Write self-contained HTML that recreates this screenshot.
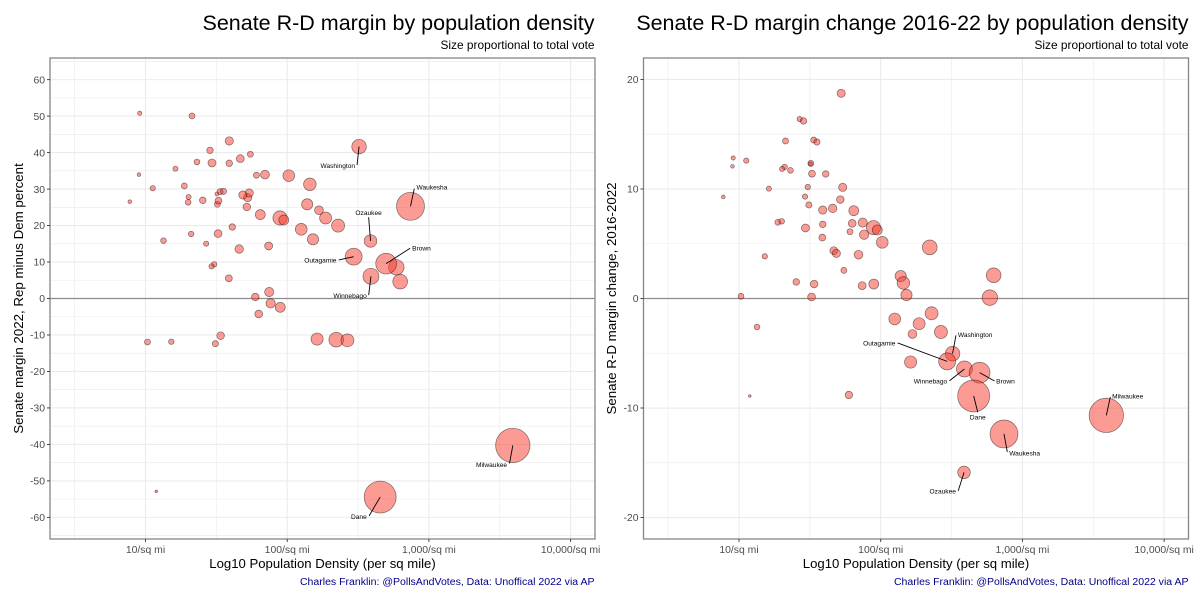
<!DOCTYPE html>
<html lang="en">
<head>
<meta charset="utf-8">
<title>Senate R-D margin by population density</title>
<style>
html,body{margin:0;padding:0;background:#fff;}
svg{display:block;filter:blur(0.35px);}
text{font-family:"Liberation Sans",sans-serif;}
</style>
</head>
<body>
<svg id="chart" xmlns="http://www.w3.org/2000/svg" width="1200" height="600" viewBox="0 0 1200 600">
  <rect width="1200" height="600" fill="#fff"/>
  <text x="594.5" y="30" text-anchor="end" font-size="21.5" fill="#000">Senate R-D margin by population density</text>
  <text x="594.5" y="49" text-anchor="end" font-size="11.9" fill="#000">Size proportional to total vote</text>
  <text x="322.5" y="568" text-anchor="middle" font-size="13.15" fill="#000">Log10 Population Density (per sq mile)</text>
  <text transform="translate(23 298.5) rotate(-90)" text-anchor="middle" font-size="13.3" fill="#000">Senate margin 2022, Rep minus Dem percent</text>
  <text x="594.5" y="585" text-anchor="end" font-size="10.53" fill="#00008b">Charles Franklin: @PollsAndVotes, Data: Unoffical 2022 via AP</text>
  <text x="1188.5" y="30" text-anchor="end" font-size="21.46" fill="#000">Senate R-D margin change 2016-22 by population density</text>
  <text x="1188.5" y="49" text-anchor="end" font-size="11.9" fill="#000">Size proportional to total vote</text>
  <text x="916" y="568" text-anchor="middle" font-size="13.15" fill="#000">Log10 Population Density (per sq mile)</text>
  <text transform="translate(616 298.5) rotate(-90)" text-anchor="middle" font-size="13.3" fill="#000">Senate R-D margin change, 2016-2022</text>
  <text x="1188.5" y="585" text-anchor="end" font-size="10.53" fill="#00008b">Charles Franklin: @PollsAndVotes, Data: Unoffical 2022 via AP</text>
</svg>
<script>
// County data (one entry per Wisconsin county)
var logDensity = [1.721,1.428,1.455,1.328,1.527,1.550,0.959,1.051,0.954,1.507,1.504,1.322,1.304,1.363,1.515,1.612,1.485,1.732,1.211,0.889,1.466,1.715,1.493,1.591,1.661,1.810,1.274,1.301,1.799,1.873,1.949,1.976,1.591,1.469,1.783,1.883,1.588,2.011,2.346,1.669,1.687,1.843,1.182,1.740,1.404,1.530,1.869,1.951,2.141,2.160,2.797,2.182,2.770,1.014,1.512,2.359,2.099,2.271,1.127,2.425,2.224,2.507,2.469,2.211,2.591,2.698,2.656,1.076,1.775,2.870,3.592,2.588];
var margin2022 = [27.65,15.04,40.63,50.05,29.30,29.39,50.78,30.21,33.96,25.82,28.66,17.69,27.83,37.43,26.83,19.61,9.37,28.93,35.60,26.55,8.82,25.09,-12.39,43.19,13.57,22.99,30.85,26.37,-4.25,1.78,22.07,21.53,37.07,37.16,33.78,-1.33,5.53,33.68,-11.29,38.35,28.38,33.96,-11.84,39.53,26.92,-10.19,14.40,-2.42,25.82,31.31,4.62,16.22,8.55,-11.93,17.78,19.97,18.97,22.07,15.86,-11.47,24.18,41.64,11.47,-11.11,6.08,9.55,-54.43,-52.88,0.41,25.27,-40.27,15.77];
var marginChange = [18.74,16.39,16.21,14.38,14.47,14.29,12.83,12.59,12.07,12.34,12.28,12.01,11.83,11.70,11.40,11.37,10.18,10.15,10.03,9.27,9.30,9.03,8.54,8.08,8.23,8.02,6.96,7.05,6.86,6.93,6.47,6.26,6.77,6.44,6.10,5.83,5.56,5.13,4.67,4.37,4.12,4.00,3.85,2.57,1.51,1.32,1.17,1.32,2.05,1.42,2.12,0.32,0.08,0.20,0.14,-1.35,-1.87,-2.30,-2.60,-3.06,-3.24,-5.04,-5.74,-5.80,-6.44,-6.77,-8.90,-8.90,-8.81,-12.37,-10.67,-15.88];
var totalVotes = [25,10,15.7,13.4,13.4,14.3,6.6,10.4,5.1,13.4,5.9,11.2,9.7,12.5,17.7,15.7,11.2,25,9.7,5.1,10.4,21.5,14.3,25.6,26.9,37,12.9,12.1,22.6,31.5,75,37,15.7,23.8,13.4,32.8,17.7,50.9,81,23.2,25,28.8,10.8,13.4,16.2,22,23.8,37,46.6,59,81,46.6,89,12.9,22.6,62.8,51.8,53.5,12,62.8,28.8,79,107,55,95,161,381,2.5,21,291,440,59];

// Axis ticks
var xBreaks = [1,2,3,4];
var xMinorBreaks = [0.5,1.5,2.5,3.5];
var xTickLabels = ['10/sq mi','100/sq mi','1,000/sq mi','10,000/sq mi'];
var leftYBreaks = [60,50,40,30,20,10,0,-10,-20,-30,-40,-50,-60];
var leftYMinorBreaks = [65,55,45,35,25,15,5,-5,-15,-25,-35,-45,-55,-65];
var rightYBreaks = [20,10,0,-10,-20];
var rightYMinorBreaks = [15,5,-5,-15];

// Repel annotations: county index plus pixel nudges from the point
var leftLabels = [
  {name:'Washington',i:61,sx:-2,sy:18.3,lx:-4,ly:19.3,a:'end'},
  {name:'Waukesha',i:69,sx:3.8,sy:-17.7,lx:6,ly:-19,a:'start'},
  {name:'Ozaukee',i:71,sx:-1.9,sy:-23.7,lx:-1.9,ly:-28.3,a:'middle'},
  {name:'Brown',i:65,sx:24,sy:-15.4,lx:26,ly:-15.4,a:'start'},
  {name:'Outagamie',i:62,sx:-14.9,sy:3.3,lx:-17.2,ly:3.3,a:'end'},
  {name:'Winnebago',i:64,sx:-2.3,sy:18.7,lx:-4.2,ly:19.4,a:'end'},
  {name:'Milwaukee',i:70,sx:-3.3,sy:18,lx:-5.7,ly:19.4,a:'end'},
  {name:'Dane',i:66,sx:-11,sy:18.7,lx:-13.4,ly:19.7,a:'end'}
];
var rightLabels = [
  {name:'Washington',i:61,sx:3.4,sy:-18.4,lx:5.3,ly:-19,a:'start'},
  {name:'Outagamie',i:62,sx:-49.5,sy:-18.4,lx:-51.8,ly:-18,a:'end'},
  {name:'Winnebago',i:64,sx:-15,sy:11.7,lx:-17.3,ly:12.3,a:'end'},
  {name:'Brown',i:65,sx:14.9,sy:8.4,lx:16.5,ly:8.7,a:'start'},
  {name:'Dane',i:66,sx:4.1,sy:16.3,lx:4.1,ly:21,a:'middle'},
  {name:'Waukesha',i:69,sx:3.3,sy:18,lx:5.2,ly:19.3,a:'start'},
  {name:'Milwaukee',i:70,sx:4,sy:-18.3,lx:5.8,ly:-19,a:'start'},
  {name:'Ozaukee',i:71,sx:-5.8,sy:18.3,lx:-8.1,ly:18.9,a:'end'}
];

var SVG_NS = 'http://www.w3.org/2000/svg';
var chart = document.getElementById('chart');
var X_DOMAIN_MIN = 0.326, X_DOMAIN_MAX = 4.172;
var PANEL_TOP = 58, PANEL_BOTTOM = 539;
var SIZE_K = 0.82;

function make(tag, attrs, parent) {
  var el = document.createElementNS(SVG_NS, tag);
  for (var k in attrs) el.setAttribute(k, attrs[k]);
  parent.appendChild(el);
  return el;
}

function drawPanel(prefix, left, right, yLimit, yBreaks, yMinor, values, labels) {
  var g = make('g', {}, chart);
  
  

  function xScale(v) { return left + (v - X_DOMAIN_MIN) / (X_DOMAIN_MAX - X_DOMAIN_MIN) * (right - left); }
  function yScale(v) { return PANEL_TOP + (yLimit - v) / (2 * yLimit) * (PANEL_BOTTOM - PANEL_TOP); }
  function sizeScale(v) { return SIZE_K * Math.sqrt(v); }

  yMinor.forEach(function (v) {
    var l = make('line', {x1: left, x2: right, y1: yScale(v), y2: yScale(v), stroke: '#ebebeb', 'stroke-width': 0.6}, g);
    
    
  });
  xMinorBreaks.forEach(function (v) {
    var l = make('line', {x1: xScale(v), x2: xScale(v), y1: PANEL_TOP, y2: PANEL_BOTTOM, stroke: '#ebebeb', 'stroke-width': 0.6}, g);
    
    
  });
  yBreaks.forEach(function (v) {
    var l = make('line', {x1: left, x2: right, y1: yScale(v), y2: yScale(v), stroke: '#ebebeb', 'stroke-width': 1.1}, g);
    
    
  });
  xBreaks.forEach(function (v) {
    var l = make('line', {x1: xScale(v), x2: xScale(v), y1: PANEL_TOP, y2: PANEL_BOTTOM, stroke: '#ebebeb', 'stroke-width': 1.1}, g);
    
    
  });

  var zero = make('line', {x1: left, x2: right, y1: yScale(0), y2: yScale(0), stroke: '#8c8c8c', 'stroke-width': 1.2}, g);
  
  

  values.forEach(function (v, i) {
    var c = make('circle', {cx: xScale(logDensity[i]), cy: yScale(v), r: sizeScale(totalVotes[i]),
      fill: 'rgba(246,52,36,0.49)', stroke: 'rgba(0,0,0,0.5)', 'stroke-width': 0.7}, g);
    
    
  });

  labels.forEach(function (d) {
    var px = xScale(logDensity[d.i]), py = yScale(values[d.i]);
    var s = make('line', {x1: px, y1: py, x2: px + d.sx, y2: py + d.sy, stroke: '#000', 'stroke-width': 0.9}, g);
    
    
    var t = make('text', {x: px + d.lx, y: py + d.ly + 2.3, 'text-anchor': d.a, 'font-size': 6.6, fill: '#000'}, g);
    t.textContent = d.name;
    
    
  });

  var border = make('rect', {x: left, y: PANEL_TOP, width: right - left, height: PANEL_BOTTOM - PANEL_TOP,
    fill: 'none', stroke: '#858585', 'stroke-width': 1.3}, g);
  
  

  yBreaks.forEach(function (v) {
    var tk = make('line', {x1: left - 3, x2: left, y1: yScale(v), y2: yScale(v), stroke: '#333', 'stroke-width': 0.9}, g);
    
    
    var t = make('text', {x: left - 5, y: yScale(v) + 3.7, 'text-anchor': 'end', 'font-size': 10.4, fill: '#4d4d4d'}, g);
    t.textContent = String(v);
    
    
  });
  xBreaks.forEach(function (v, i) {
    var tk = make('line', {x1: xScale(v), x2: xScale(v), y1: PANEL_BOTTOM, y2: PANEL_BOTTOM + 3, stroke: '#333', 'stroke-width': 0.9}, g);
    
    
    var t = make('text', {x: xScale(v), y: 553, 'text-anchor': 'middle', 'font-size': 10.4, fill: '#4d4d4d'}, g);
    t.textContent = xTickLabels[i];
    
    
  });
}

drawPanel('left', 50, 595, 65.93, leftYBreaks, leftYMinorBreaks, margin2022, leftLabels);
drawPanel('right', 643.5, 1188.5, 21.96, rightYBreaks, rightYMinorBreaks, marginChange, rightLabels);
</script>
</body>
</html>
